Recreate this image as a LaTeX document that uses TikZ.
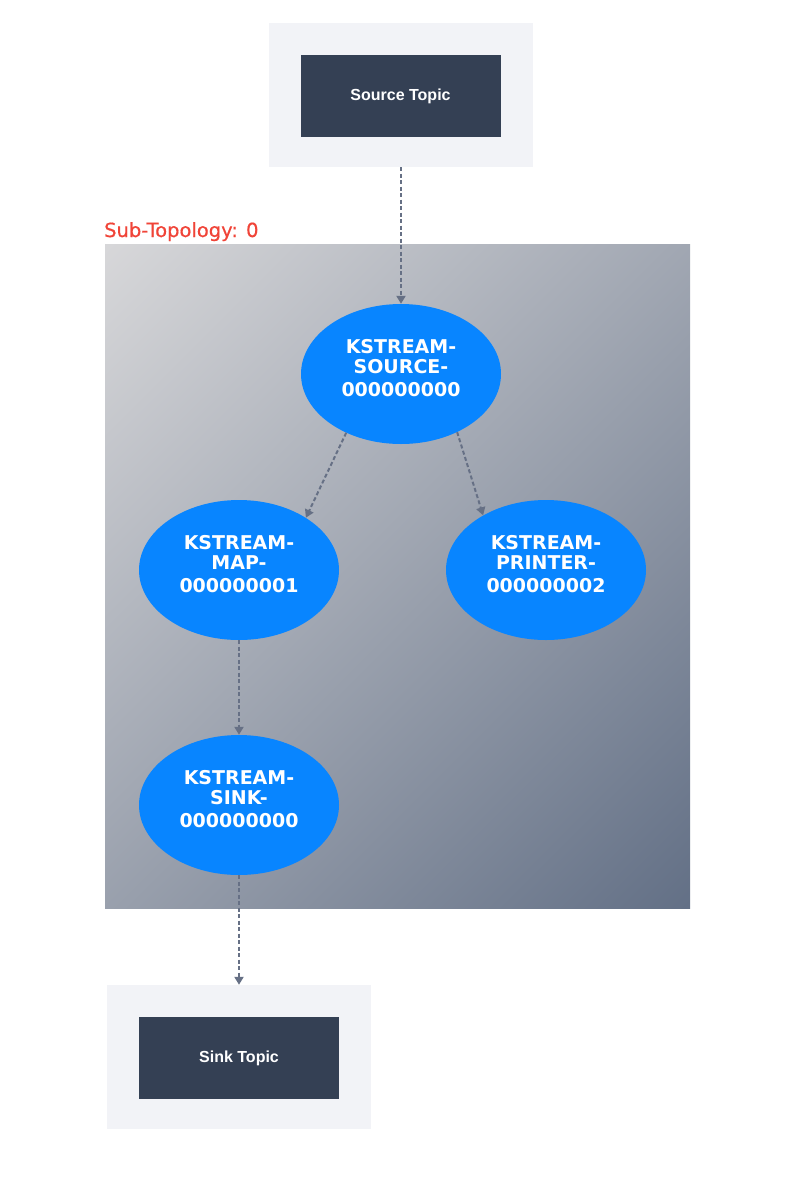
\documentclass[tikz,border=0pt]{standalone}
\usepackage{fontspec}
\setmainfont{DejaVu Sans}
\newfontfamily\topicfont{Liberation Sans}
\newfontfamily\labelfont[FakeBold=0.6]{DejaVu Sans}
\usetikzlibrary{arrows.meta,shapes.geometric}
\definecolor{outerbg}{HTML}{F2F3F7}
\definecolor{darkbox}{HTML}{344054}
\definecolor{nodeblue}{RGB}{8,133,255}
\definecolor{edgecol}{HTML}{667085}
\definecolor{labelred}{HTML}{F04438}
\definecolor{gradA}{HTML}{D7D7D9}
\definecolor{gradB}{HTML}{637086}
\tikzset{
  topicouter/.style={fill=outerbg, draw=none, minimum width=264pt, minimum height=144pt, inner sep=0pt},
  topicinner/.style={fill=darkbox, draw=none, minimum width=200pt, minimum height=82pt, inner sep=0pt,
    text=white, font=\topicfont\bfseries\fontsize{16}{18}\selectfont},
  procnode/.style={ellipse, fill=nodeblue, draw=none, minimum width=200pt, minimum height=140pt, inner sep=0pt,
    text=white, align=center, font=\bfseries\fontsize{19}{20}\selectfont},
  flow/.style={draw=edgecol, line width=2pt, dash pattern=on 4pt off 2.5pt,
    -{Triangle[width=9pt,length=8pt]}},
  grouplabel/.style={text=labelred, font=\labelfont\fontsize{19.5}{21}\selectfont, inner sep=0pt, anchor=base west}
}
\newcommand{\lastdepth}{\rule[-12.8pt]{0pt}{0pt}}
\begin{document}
\begin{tikzpicture}[x=1pt,y=1pt]
\useasboundingbox (0,0) rectangle (800,-1181);
% sub-topology cluster
\coordinate (cTL) at (105,-244);
\coordinate (cBR) at (690,-908);
\coordinate (cC) at (397.5,-576);
\begin{scope}
  \clip (cTL) rectangle (cBR);
  \shade[top color=gradA, bottom color=gradB, shading angle=45]
    ([shift={(-441.5,-441.5)}]cC) rectangle ([shift={(441.5,441.5)}]cC);
\end{scope}
\node[grouplabel] (grp) at (104,-237) {Sub-Topology: 0};
% topics
\node[topicouter] (srcout) at (400.5,-95) {};
\node[topicinner] (srcin) at (400.5,-96) {Source Topic};
\node[topicouter] (sinkout) at (239,-1057) {};
\node[topicinner] (sinkin) at (239,-1058) {Sink Topic};
% processors
\node[procnode] (src) at (401,-374) {KSTREAM-\\SOURCE-\\[3pt]000000000\lastdepth};
\node[procnode] (map) at (239,-570) {KSTREAM-\\MAP-\\[3pt]000000001\lastdepth};
\node[procnode] (prt) at (546,-570) {KSTREAM-\\PRINTER-\\[3pt]000000002\lastdepth};
\node[procnode] (snk) at (239,-805) {KSTREAM-\\SINK-\\[3pt]000000000\lastdepth};
% edges
\draw[flow] (srcout.south -| src.north) -- (src.north);
\draw[flow] (src.227) -- (map.38);
\draw[flow] (src.314) -- (prt.139);
\draw[flow] (map.south) -- (snk.north);
\draw[flow] (snk.south) -- (sinkout.north);
\end{tikzpicture}
\end{document}
